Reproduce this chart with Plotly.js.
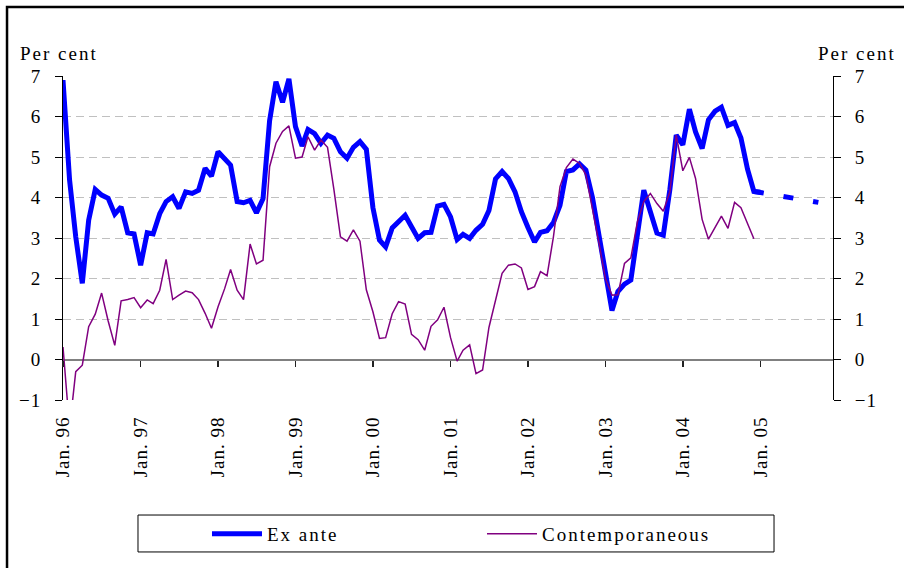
<!DOCTYPE html>
<html><head><meta charset="utf-8">
<script src="https://cdn.plot.ly/plotly-3.0.1.min.js"></script>
<style>
html,body{margin:0;padding:0;background:#fff;}
#chart{width:904px;height:568px;}
.xtick text,.ytick text,.y2tick text{letter-spacing:1px;}
.legendtext,.annotation-text{letter-spacing:2px;}
</style></head><body><div id="chart"></div>
<script>
// ---- data ----
const startYear = 1996;
const exAnte = [
 6.90,4.43,3.03,1.88,3.44,4.20,4.06,3.98,3.59,3.77,3.13,3.10,
 2.33,3.13,3.10,3.60,3.90,4.02,3.73,4.14,4.10,4.18,4.72,4.53,
 5.13,4.97,4.80,3.90,3.87,3.93,3.62,3.97,5.90,6.86,6.35,6.93,
 5.75,5.27,5.68,5.58,5.34,5.54,5.46,5.13,4.97,5.24,5.38,5.19,
 3.75,2.95,2.78,3.25,3.42,3.56,3.28,2.99,3.13,3.14,3.79,3.83,
 3.52,2.96,3.09,2.99,3.19,3.34,3.68,4.46,4.64,4.47,4.14,3.65,
 3.26,2.90,3.14,3.18,3.38,3.81,4.64,4.68,4.83,4.68,4.00,3.10,
 2.15,1.21,1.68,1.86,1.96,3.20,4.18,3.65,3.12,3.07,4.20,5.54,
 5.30,6.18,5.62,5.21,5.92,6.13,6.23,5.78,5.85,5.47,4.70,4.15,
 4.13
];
const contemporaneous = [
 0.31,-1.70,-0.30,-0.14,0.81,1.12,1.64,0.95,0.35,1.45,1.48,1.53,
 1.28,1.47,1.38,1.71,2.47,1.48,1.59,1.69,1.65,1.48,1.14,0.77,
 1.30,1.75,2.22,1.71,1.48,2.85,2.36,2.45,4.76,5.34,5.63,5.77,
 4.97,5.00,5.50,5.17,5.42,5.24,4.20,3.03,2.92,3.20,2.92,1.72,
 1.18,0.52,0.54,1.13,1.43,1.37,0.62,0.49,0.23,0.82,0.98,1.29,
 0.54,-0.04,0.23,0.36,-0.35,-0.26,0.79,1.47,2.13,2.33,2.36,2.26,
 1.73,1.80,2.17,2.07,3.03,4.27,4.74,4.95,4.84,4.56,3.75,2.90,
 2.00,1.59,1.60,2.37,2.51,3.40,3.90,4.10,3.85,3.66,4.14,5.54,
 4.66,4.99,4.47,3.46,2.97,3.25,3.54,3.24,3.88,3.75,3.37,2.98
];
const forecastDates = ['2004-12-01','2005-10-01'];
const forecastValues = [4.15, 3.88];
const tickDates = ['1996-01-01','1997-01-01','1998-01-01','1999-01-01','2000-01-01',
                   '2001-01-01','2002-01-01','2003-01-01','2004-01-01','2005-01-01'];
const tickLabels = ['Jan. 96','Jan. 97','Jan. 98','Jan. 99','Jan. 00',
                    'Jan. 01','Jan. 02','Jan. 03','Jan. 04','Jan. 05'];
const seriesNames = ['Ex ante','Contemporaneous'];
const unitLabel = 'Per cent';
const xRange = ['1996-01-01','2005-12-09'];
const yRange = [-1, 7];

function monthList(n){
  const out=[];
  for(let i=0;i<n;i++){
    const y=startYear+Math.floor(i/12), m=i%12+1;
    out.push(y+'-'+String(m).padStart(2,'0')+'-01');
  }
  return out;
}
const monthsA = monthList(exAnte.length);
const monthsC = monthList(contemporaneous.length);

const FONT = {family:'"Liberation Serif", "Times New Roman", serif', size:19, color:'#000'};

const traces = [
  {x:monthsA, y:exAnte, type:'scatter', mode:'lines', name:seriesNames[0],
   line:{color:'#0000ff', width:5}, xaxis:'x', yaxis:'y', hoverinfo:'skip'},
  {x:forecastDates, y:forecastValues, type:'scatter', mode:'lines', showlegend:false,
   line:{color:'#0000ff', width:5, dash:'10px,20px'}, xaxis:'x2', yaxis:'y', hoverinfo:'skip'},
  {x:monthsC, y:contemporaneous, type:'scatter', mode:'lines', name:seriesNames[1],
   line:{color:'#800080', width:1.5}, xaxis:'x', yaxis:'y2', hoverinfo:'skip'}
];

const layout = {
  width:904, height:568,
  margin:{l:63, r:71, t:76, b:168, pad:0},
  paper_bgcolor:'#fff', plot_bgcolor:'#fff',
  font:FONT,
  showlegend:true,
  legend:{orientation:'h', x:0.187, xanchor:'left', y:-0.4136, yanchor:'middle',
          bgcolor:'rgba(0,0,0,0)', borderwidth:0, entrywidth:210, itemwidth:50,
          font:FONT, traceorder:'normal'},
  xaxis:{type:'date', range:xRange, tickmode:'array', tickvals:tickDates, ticktext:tickLabels,
         tickangle:-90, ticks:'outside', ticklen:8, tickcolor:'rgba(0,0,0,0)',
         showgrid:false, showline:false, zeroline:false, fixedrange:true, tickfont:FONT},
  xaxis2:{type:'date', overlaying:'x', anchor:'free', position:0.125, side:'bottom', range:xRange,
          tickmode:'array', tickvals:tickDates, ticks:'outside', ticklen:6, tickwidth:1.5,
          tickcolor:'#222', showticklabels:false, showgrid:false, showline:false, zeroline:false},
  yaxis:{range:yRange, dtick:1, tick0:0, ticks:'outside', ticklen:7, tickcolor:'#000', tickwidth:1,
         showline:true, linecolor:'#000', linewidth:1, showgrid:true, gridcolor:'#c0c0c0',
         griddash:'8px,5px', gridwidth:1, zeroline:true, zerolinecolor:'#808080', zerolinewidth:2,
         ticklabelstandoff:10, tickfont:FONT, fixedrange:true},
  yaxis2:{overlaying:'y', side:'right', range:yRange, dtick:1, tick0:0, ticks:'outside', ticklen:7,
          tickcolor:'#000', showline:true, linecolor:'#000', linewidth:1, showgrid:false,
          zeroline:false, ticklabelstandoff:10, tickfont:FONT, fixedrange:true},
  shapes:[
    {type:'rect', xref:'paper', yref:'paper', x0:-0.0727, x1:1.12, y0:-0.56, y1:1.213,
     line:{color:'#000', width:2.5}, fillcolor:'rgba(0,0,0,0)'},
    {type:'rect', xref:'paper', yref:'paper', x0:0.0974, x1:0.9234, y0:-0.469, y1:-0.355,
     line:{color:'#000', width:1}, fillcolor:'rgba(0,0,0,0)'}
  ],
  annotations:[
    {text:unitLabel, xref:'paper', yref:'paper', x:-0.0571, xanchor:'left', y:1.069, yanchor:'middle',
     showarrow:false, font:FONT, borderpad:0},
    {text:unitLabel, xref:'paper', yref:'paper', x:0.9788, xanchor:'left', y:1.069, yanchor:'middle',
     showarrow:false, font:FONT, borderpad:0}
  ]
};

Plotly.newPlot('chart', traces, layout, {staticPlot:true, displayModeBar:false});
</script></body></html>
